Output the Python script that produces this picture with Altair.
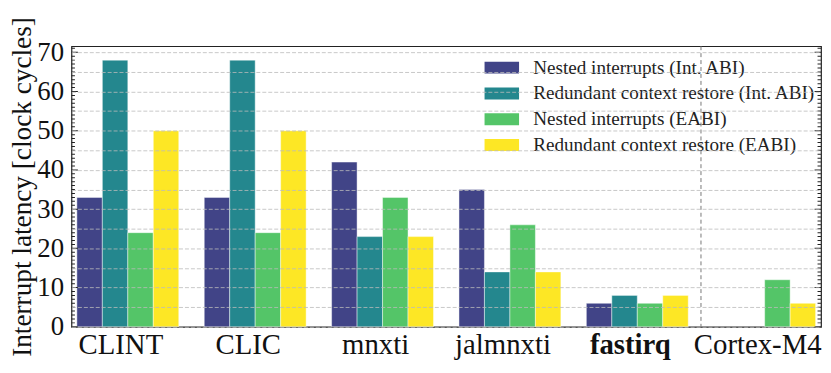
import altair as alt
import pandas as pd

categories = ["CLINT", "CLIC", "mnxti", "jalmnxti", "fastirq", "Cortex-M4"]
series = [
    "Nested interrupts (Int. ABI)",
    "Redundant context restore (Int. ABI)",
    "Nested interrupts (EABI)",
    "Redundant context restore (EABI)",
]
nested_int = [33, 33, 42, 35, 6, None]
redundant_int = [68, 68, 23, 14, 8, None]
nested_eabi = [24, 24, 33, 26, 6, 12]
redundant_eabi = [50, 50, 23, 14, 8, 6]
colors = ["#414487", "#24878e", "#54c568", "#fde725"]

all_vals = [nested_int, redundant_int, nested_eabi, redundant_eabi]
rows = []
for i, c in enumerate(categories):
    for s, vals in zip(series, all_vals):
        rows.append({"cat": c, "series": s, "value": vals[i]})
df = pd.DataFrame(rows)

W, H = 756, 283
YMAX = 71.55
PI, PO = 0.2, 0.0425
step = W / (len(categories) - PI + 2 * PO)
FONT = "'Liberation Serif', 'Times New Roman', Times, 'DejaVu Serif', serif"
TXT = "#111111"

xscale = alt.Scale(domain=categories, paddingInner=PI, paddingOuter=PO)
yscale = alt.Scale(domain=[0, YMAX], nice=False, zero=True)

xaxis = alt.Axis(title=None, labelAngle=0, labelFont=FONT, labelFontSize=29,
                 labelColor=TXT, labelPadding=4, labelOffset=-7, ticks=False, domain=False,
                 labelFontWeight=alt.expr("datum.value == 'fastirq' ? 'bold' : 'normal'"))
yaxis = alt.Axis(title="Interrupt latency [clock cycles]", values=list(range(0, 71, 5)),
                 labelExpr="datum.value % 10 == 0 ? datum.label : ''",
                 labelOverlap=False, ticks=False, domain=False, grid=True,
                 gridColor="#bbbbbb", gridDash=[4, 2], gridWidth=0.8,
                 labelFont=FONT, labelFontSize=27, labelColor=TXT, labelPadding=8,
                 titleFont=FONT, titleFontSize=27.5, titleFontWeight="normal",
                 titleColor=TXT, titlePadding=0, zindex=1)

bars = alt.Chart(df).mark_bar(stroke="white", strokeWidth=1, strokeOpacity=0.45).encode(
    x=alt.X("cat:N", scale=xscale, sort=categories, axis=xaxis),
    xOffset=alt.XOffset("series:N", sort=series, scale=alt.Scale(paddingInner=0, paddingOuter=0)),
    y=alt.Y("value:Q", scale=yscale, axis=yaxis),
    color=alt.Color("series:N", sort=series, scale=alt.Scale(domain=series, range=colors),
                    legend=alt.Legend(title=None, orient="none", legendX=424.4, legendY=12,
                                      symbolType="M-2.9,-1H2.9V1H-2.9Z", symbolSize=144,
                                      symbolStrokeWidth=0, symbolOpacity=1,
                                      labelFont=FONT, labelFontSize=19.3, labelColor="#222222",
                                      labelOffset=22, rowPadding=6, padding=0, labelLimit=500)),
)

rule_df = pd.DataFrame({"cat": ["Cortex-M4"]})
rule = alt.Chart(rule_df).mark_rule(color="#777777", strokeDash=[4, 3], strokeWidth=1,
                                    xOffset=-step * PI / 2).encode(
    x=alt.X("cat:N", scale=xscale, sort=categories, bandPosition=0, axis=xaxis)
)

major_vals = list(range(0, 71, 10))
minor_vals = [v for v in range(0, 72) if v % 10 != 0]

def tick_layer(vals, length, side):
    xv = 0 if side == "left" else W
    return alt.Chart(pd.DataFrame({"v": vals})).mark_tick(
        size=2 * length, thickness=1, color="#222222", clip=True, opacity=1
    ).encode(y=alt.Y("v:Q", scale=yscale, axis=yaxis), x=alt.value(xv))

ticks = [tick_layer(major_vals, 6.5, "left"), tick_layer(minor_vals, 3.5, "left"),
         tick_layer(major_vals, 6.5, "right"), tick_layer(minor_vals, 3.5, "right")]

chart = alt.layer(bars, rule, *ticks).properties(
    width=W, height=H,
    padding={"left": 64, "top": 37, "right": 2, "bottom": 37},
    autosize=alt.AutoSizeParams(type="none"),
    background="white",
).configure_view(stroke="#222222", strokeWidth=1.2)

chart.save("out.html", embed_options={"renderer": "svg", "actions": False})
